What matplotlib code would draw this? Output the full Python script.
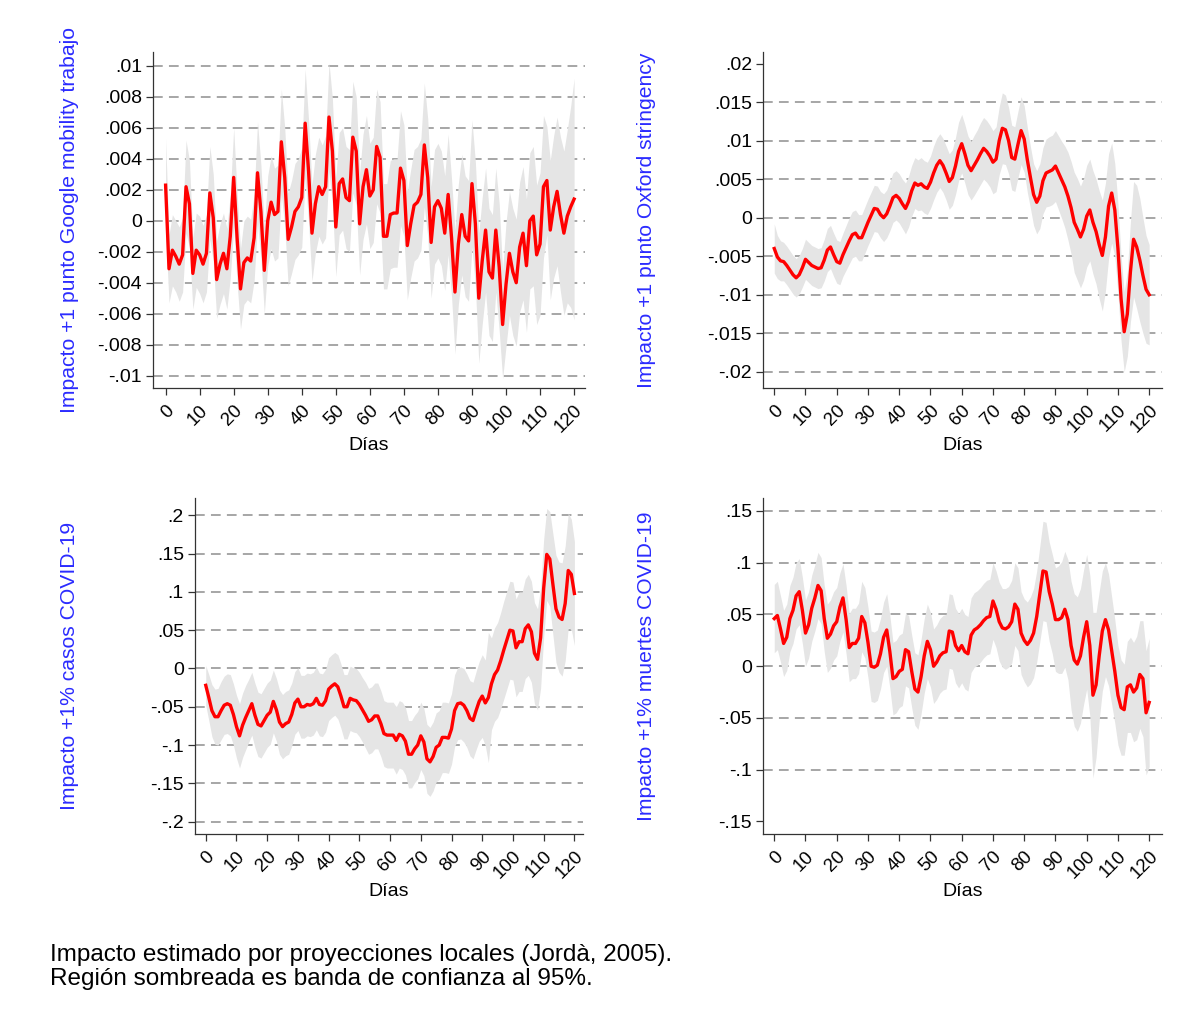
import numpy as np
import matplotlib
matplotlib.use("Agg")
import matplotlib.pyplot as plt

plt.rcParams['font.family'] = ['Liberation Sans', 'DejaVu Sans']

dias = np.arange(0, 121)

# impacto +1 punto Google mobility trabajo (x 1e-3)
google_mean = [2.3, -3.1, -1.9, -2.3, -2.8, -2.2, 2.2, 1.1, -3.4, -1.9,
               -2.2, -2.8, -2.1, 1.8, 0.2, -3.8, -2.8, -2.1, -3.1, -1.0,
               2.8, -1.1, -4.4, -2.7, -2.4, -2.6, -1.1, 3.1, 0.6, -3.2,
               0.0, 1.2, 0.4, 0.6, 5.1, 2.8, -1.2, -0.4, 0.6, 0.9,
               1.5, 6.3, 3.2, -0.8, 1.1, 2.2, 1.7, 2.2, 6.7, 4.5,
               -0.4, 2.4, 2.7, 1.5, 1.3, 5.4, 4.5, -0.2, 2.2, 3.3,
               1.6, 2.0, 4.8, 4.1, -1.0, -1.0, 0.4, 0.5, 0.5, 3.4,
               2.6, -1.6, -0.2, 1.0, 1.2, 1.7, 4.9, 2.8, -1.4, 0.9,
               1.3, 0.8, -0.8, 1.7, -1.1, -4.6, -1.5, 0.4, -1.0, -1.3,
               2.4, -0.2, -5.0, -2.6, -0.6, -3.3, -3.7, -0.6, -3.0, -6.7,
               -4.1, -2.1, -3.3, -4.0, -1.7, -0.8, -2.9, 0.0, 0.3, -2.2,
               -1.5, 2.2, 2.6, -0.6, 0.9, 1.9, 0.4, -0.8, 0.3, 0.9,
               1.4]
google_ci = [3.0, 2.2, 2.3, 2.3, 2.4, 2.4, 3.0, 2.8, 2.3, 2.4,
             2.5, 2.5, 2.5, 3.0, 2.8, 2.5, 2.6, 2.6, 2.6, 2.7,
             3.2, 2.9, 2.6, 2.7, 2.7, 2.7, 2.8, 3.3, 3.0, 2.8,
             2.9, 3.0, 3.0, 3.0, 3.4, 3.2, 3.0, 3.0, 3.1, 3.1,
             3.2, 3.5, 3.3, 3.1, 3.2, 3.2, 3.2, 3.3, 3.5, 3.4,
             3.2, 3.3, 3.3, 3.3, 3.3, 3.6, 3.5, 3.3, 3.4, 3.5,
             3.4, 3.4, 3.7, 3.6, 3.4, 3.4, 3.5, 3.5, 3.5, 3.7,
             3.6, 3.5, 3.5, 3.6, 3.6, 3.6, 4.0, 3.8, 3.6, 3.7,
             3.7, 3.7, 3.7, 3.9, 3.8, 4.0, 3.9, 3.9, 3.9, 3.9,
             4.1, 4.0, 4.2, 4.1, 4.0, 4.1, 4.1, 4.0, 4.1, 3.5,
             4.0, 4.0, 4.1, 4.1, 4.2, 4.3, 4.3, 4.4, 4.5, 4.5,
             4.6, 4.6, 3.5, 4.5, 4.6, 4.8, 5.0, 5.3, 5.6, 6.5,
             7.8]

# impacto +1 punto Oxford stringency (x 1e-3)
oxford_mean = [-4.0, -5.1, -5.6, -5.7, -6.2, -6.8, -7.4, -7.8, -7.4, -6.5,
               -5.4, -5.8, -6.2, -6.4, -6.6, -6.5, -5.5, -4.2, -3.8, -4.8,
               -5.7, -5.9, -4.8, -3.9, -3.0, -2.2, -2.0, -2.6, -2.6, -1.6,
               -0.6, 0.3, 1.2, 1.1, 0.4, 0.0, 0.5, 1.5, 2.6, 2.9,
               2.5, 1.8, 1.2, 2.1, 3.5, 4.5, 4.2, 4.4, 4.0, 3.8,
               4.6, 5.8, 6.8, 7.4, 6.8, 5.8, 4.7, 5.2, 6.7, 8.6,
               9.6, 8.3, 6.8, 6.1, 6.8, 7.5, 8.3, 9.0, 8.6, 8.0,
               7.2, 7.6, 10.0, 11.6, 11.4, 10.0, 7.8, 7.6, 9.5, 11.3,
               10.2, 7.5, 5.2, 3.0, 2.0, 2.8, 4.8, 5.8, 6.0, 6.2,
               6.7, 5.8, 4.9, 4.0, 2.8, 1.3, -0.6, -1.5, -2.5, -1.5,
               0.2, 1.0, -0.6, -1.8, -3.5, -4.9, -2.5, 1.5, 3.2, 1.0,
               -4.0, -10.5, -14.8, -12.5, -7.0, -2.8, -3.8, -5.5, -7.5, -9.3,
               -10.0]
oxford_ci = [3.2, 2.8, 2.6, 2.5, 2.5, 2.5, 2.5, 2.5, 2.5, 2.5,
             2.6, 2.6, 2.6, 2.6, 2.6, 2.6, 2.7, 2.8, 2.8, 2.8,
             2.8, 2.8, 2.8, 2.9, 3.0, 3.0, 3.0, 3.0, 3.0, 3.0,
             3.0, 3.0, 3.0, 3.0, 3.0, 3.1, 3.1, 3.2, 3.2, 3.2,
             3.2, 3.2, 3.3, 3.3, 3.3, 3.3, 3.3, 3.4, 3.4, 3.4,
             3.4, 3.5, 3.5, 3.5, 3.5, 3.5, 3.6, 3.6, 3.7, 3.8,
             3.8, 3.8, 3.8, 3.8, 3.9, 3.9, 4.0, 4.0, 4.0, 4.0,
             4.1, 4.2, 4.4, 4.6, 4.5, 4.3, 4.2, 4.2, 4.3, 4.4,
             4.3, 4.2, 4.0, 4.0, 4.1, 4.2, 4.3, 4.4, 4.5, 4.5,
             4.6, 4.8, 5.0, 5.3, 5.7, 6.0, 6.5, 6.6, 6.6, 6.6,
             6.6, 6.6, 6.7, 6.8, 7.0, 7.2, 7.0, 6.8, 6.5, 6.0,
             5.8, 5.5, 5.2, 5.5, 6.5, 7.5, 8.0, 8.0, 7.5, 7.0,
             6.5]

# impacto +1% casos COVID-19
casos_mean = [-0.022, -0.038, -0.055, -0.063, -0.063, -0.055, -0.048, -0.046, -0.048, -0.060,
              -0.076, -0.088, -0.074, -0.064, -0.055, -0.046, -0.061, -0.073, -0.075, -0.068,
              -0.061, -0.057, -0.043, -0.054, -0.070, -0.076, -0.072, -0.070, -0.060, -0.045,
              -0.040, -0.050, -0.050, -0.047, -0.048, -0.046, -0.039, -0.047, -0.048, -0.042,
              -0.027, -0.023, -0.020, -0.024, -0.036, -0.050, -0.050, -0.039, -0.041, -0.042,
              -0.047, -0.054, -0.061, -0.069, -0.067, -0.062, -0.062, -0.072, -0.085, -0.087,
              -0.087, -0.087, -0.094, -0.086, -0.088, -0.095, -0.112, -0.112, -0.105, -0.100,
              -0.088, -0.096, -0.118, -0.122, -0.115, -0.103, -0.100, -0.090, -0.090, -0.091,
              -0.079, -0.055, -0.046, -0.045, -0.048, -0.055, -0.065, -0.068, -0.055, -0.043,
              -0.036, -0.045, -0.038, -0.020, -0.008, -0.002, 0.010, 0.024, 0.037, 0.050,
              0.049, 0.027, 0.035, 0.035, 0.052, 0.057, 0.048, 0.020, 0.012, 0.040,
              0.105, 0.149, 0.143, 0.110, 0.078, 0.067, 0.064, 0.085, 0.128, 0.123,
              0.098]
casos_ci = [0.026, 0.030, 0.034, 0.036, 0.037, 0.038, 0.038, 0.039, 0.040, 0.040,
            0.041, 0.042, 0.042, 0.042, 0.041, 0.041, 0.042, 0.042, 0.042, 0.042,
            0.042, 0.042, 0.041, 0.041, 0.042, 0.042, 0.042, 0.042, 0.041, 0.041,
            0.041, 0.041, 0.041, 0.041, 0.041, 0.041, 0.041, 0.041, 0.041, 0.041,
            0.041, 0.041, 0.041, 0.042, 0.042, 0.042, 0.042, 0.042, 0.042, 0.042,
            0.042, 0.042, 0.043, 0.043, 0.043, 0.043, 0.043, 0.043, 0.043, 0.043,
            0.043, 0.043, 0.044, 0.044, 0.044, 0.044, 0.044, 0.044, 0.044, 0.044,
            0.044, 0.044, 0.045, 0.045, 0.045, 0.045, 0.045, 0.046, 0.046, 0.046,
            0.046, 0.047, 0.047, 0.047, 0.048, 0.048, 0.049, 0.050, 0.051, 0.052,
            0.054, 0.056, 0.085, 0.060, 0.061, 0.062, 0.063, 0.064, 0.064, 0.064,
            0.064, 0.064, 0.065, 0.065, 0.065, 0.066, 0.066, 0.066, 0.066, 0.066,
            0.064, 0.060, 0.062, 0.066, 0.070, 0.072, 0.074, 0.075, 0.075, 0.072,
            0.068]

# impacto +1% muertes COVID-19
muertes_mean = [0.046, 0.049, 0.036, 0.022, 0.028, 0.046, 0.054, 0.068, 0.072, 0.054,
                0.032, 0.040, 0.056, 0.066, 0.078, 0.073, 0.046, 0.027, 0.031, 0.039,
                0.043, 0.057, 0.066, 0.045, 0.018, 0.022, 0.022, 0.027, 0.048, 0.042,
                0.023, 0.000, -0.001, 0.001, 0.012, 0.028, 0.035, 0.014, -0.012, -0.010,
                -0.005, -0.003, 0.016, 0.014, -0.005, -0.022, -0.025, -0.010, 0.010, 0.024,
                0.016, 0.000, 0.004, 0.010, 0.013, 0.014, 0.034, 0.033, 0.020, 0.015,
                0.020, 0.014, 0.012, 0.030, 0.035, 0.037, 0.040, 0.044, 0.047, 0.048,
                0.063, 0.055, 0.043, 0.037, 0.036, 0.038, 0.043, 0.060, 0.055, 0.032,
                0.025, 0.021, 0.025, 0.032, 0.048, 0.070, 0.092, 0.091, 0.072, 0.060,
                0.045, 0.045, 0.047, 0.055, 0.045, 0.020, 0.006, 0.002, 0.010, 0.028,
                0.043, 0.020, -0.028, -0.018, 0.010, 0.034, 0.045, 0.035, 0.015, -0.005,
                -0.028, -0.040, -0.042, -0.020, -0.018, -0.025, -0.021, -0.008, -0.012, -0.045,
                -0.035]
muertes_ci = [0.033, 0.033, 0.032, 0.032, 0.032, 0.032, 0.032, 0.032, 0.032, 0.032,
              0.032, 0.032, 0.032, 0.032, 0.032, 0.032, 0.032, 0.033, 0.033, 0.033,
              0.033, 0.033, 0.033, 0.033, 0.033, 0.034, 0.034, 0.034, 0.034, 0.034,
              0.034, 0.034, 0.034, 0.034, 0.034, 0.034, 0.035, 0.035, 0.035, 0.035,
              0.035, 0.035, 0.035, 0.035, 0.035, 0.035, 0.036, 0.036, 0.036, 0.036,
              0.036, 0.036, 0.036, 0.036, 0.036, 0.036, 0.036, 0.036, 0.036, 0.036,
              0.036, 0.036, 0.036, 0.036, 0.036, 0.036, 0.036, 0.036, 0.036, 0.036,
              0.037, 0.037, 0.038, 0.038, 0.039, 0.039, 0.040, 0.040, 0.040, 0.040,
              0.040, 0.041, 0.042, 0.043, 0.044, 0.046, 0.048, 0.048, 0.048, 0.048,
              0.050, 0.052, 0.054, 0.056, 0.058, 0.062, 0.064, 0.065, 0.065, 0.065,
              0.065, 0.068, 0.080, 0.070, 0.062, 0.058, 0.055, 0.054, 0.052, 0.050,
              0.048, 0.046, 0.044, 0.044, 0.046, 0.048, 0.050, 0.052, 0.056, 0.060,
              0.062]

etiquetas_y = ["Impacto +1 punto Google mobility trabajo",
               "Impacto +1 punto Oxford stringency",
               "Impacto +1% casos COVID-19",
               "Impacto +1% muertes COVID-19"]

ticks_x = list(range(0, 121, 10))
ticks_y1 = [0.01, 0.008, 0.006, 0.004, 0.002, 0, -0.002, -0.004, -0.006, -0.008, -0.01]
labels_y1 = [".01", ".008", ".006", ".004", ".002", "0", "-.002", "-.004", "-.006", "-.008", "-.01"]
ticks_y2 = [0.02, 0.015, 0.01, 0.005, 0, -0.005, -0.01, -0.015, -0.02]
labels_y2 = [".02", ".015", ".01", ".005", "0", "-.005", "-.01", "-.015", "-.02"]
ticks_y3 = [0.2, 0.15, 0.1, 0.05, 0, -0.05, -0.1, -0.15, -0.2]
labels_y3 = [".2", ".15", ".1", ".05", "0", "-.05", "-.1", "-.15", "-.2"]
ticks_y4 = [0.15, 0.1, 0.05, 0, -0.05, -0.1, -0.15]
labels_y4 = [".15", ".1", ".05", "0", "-.05", "-.1", "-.15"]

W, H = 1186, 1026
fig = plt.figure(figsize=(W / 100, H / 100), dpi=100)

paneles = [
    # caja en pixeles (izq, arriba, der, abajo), xlim, ylim, escala
    ((153, 52, 585, 388), (-3.7, 123.2), (-0.0108, 0.0109), google_mean, google_ci, 1e-3,
     ticks_y1, labels_y1, [], etiquetas_y[0], 70),
    ((763, 52, 1162, 388), (-3.6, 124.1), (-0.0221, 0.0215), oxford_mean, oxford_ci, 1e-3,
     ticks_y2, labels_y2, [0.02], etiquetas_y[1], 646),
    ((195, 498, 583, 834), (-3.5, 122.8), (-0.2162, 0.2227), casos_mean, casos_ci, 1.0,
     ticks_y3, labels_y3, [], etiquetas_y[2], 70),
    ((763, 498, 1162, 834), (-3.6, 124.1), (-0.1621, 0.1625), muertes_mean, muertes_ci, 1.0,
     ticks_y4, labels_y4, [-0.15], etiquetas_y[3], 646),
]

for caja, xl, yl, media, ci, esc, ty, ly, sin_grid, etiqueta, xlab in paneles:
    l, t, r, b = caja
    ax = fig.add_axes([l / W, 1 - b / H, (r - l) / W, (b - t) / H])
    m = np.array(media) * esc
    c = np.array(ci) * esc
    ax.fill_between(dias, m - c, m + c, color="#e5e5e5", lw=0, zorder=1)
    for v in ty:
        if v not in sin_grid:
            ax.axhline(v, color="#a6a6a6", lw=1.4, ls=(0, (5, 3.2)), zorder=0.5)
    ax.plot(dias, m, color="#ff0000", lw=2.4, zorder=3, solid_joinstyle="round")
    ax.set_xlim(*xl)
    ax.set_ylim(*yl)
    ax.set_yticks(ty)
    ax.set_yticklabels(ly, fontsize=14)
    ax.set_xticks(ticks_x)
    ax.set_xticklabels([str(v) for v in ticks_x], fontsize=13.5, rotation=45,
                       ha="right", va="top", rotation_mode="anchor")
    ax.tick_params(axis="both", direction="out", length=5, width=0.9, color="#333333", pad=3)
    ax.tick_params(axis="x", pad=5)
    for s in ["top", "right"]:
        ax.spines[s].set_visible(False)
    for s in ["left", "bottom"]:
        ax.spines[s].set_color("#333333")
        ax.spines[s].set_linewidth(0.9)
    fig.text(xlab / W, 1 - (t + b) / 2 / H, etiqueta, rotation=90, color="#2b2bff",
             fontsize=15.2, ha="center", va="center")
    fig.text((l + r) / 2 / W, 1 - (b + 57) / H, "Días", fontsize=14, ha="center", va="center")

fig.text(50 / W, 1 - 955 / H, "Impacto estimado por proyecciones locales (Jordà, 2005).",
         fontsize=17.5, ha="left", va="center")
fig.text(50 / W, 1 - 979 / H, "Región sombreada es banda de confianza al 95%.",
         fontsize=17.5, ha="left", va="center")

fig.savefig("out.png", dpi=100, facecolor="white")
